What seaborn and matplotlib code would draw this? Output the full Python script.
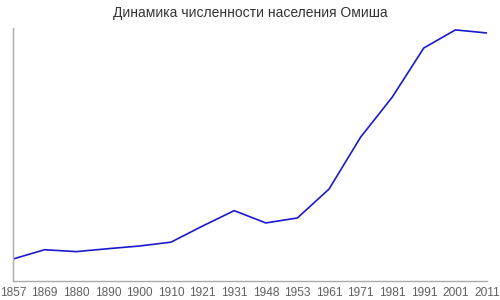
import matplotlib
matplotlib.use("Agg")
import matplotlib.pyplot as plt
import seaborn as sns
import pandas as pd

years = ["1857", "1869", "1880", "1890", "1900", "1910", "1921", "1931",
         "1948", "1953", "1961", "1971", "1981", "1991", "2001", "2011"]
population = [572, 814, 764, 840, 910, 1010, 1430, 1830,
              1510, 1640, 2390, 3740, 4780, 6060, 6530, 6450]

sns.set_theme(style="white")
plt.rcParams['font.family'] = ['Liberation Sans', 'DejaVu Sans']

df = pd.DataFrame({"pos": range(len(years)), "pop": population})

fig = plt.figure(figsize=(5, 3), dpi=100)
ax = fig.add_axes([0.026, 0.0633, 0.948, 0.8434])
sns.lineplot(data=df, x="pos", y="pop", ax=ax, color="#1a1acc", linewidth=1.2)

ax.set_xlim(0, len(years) - 1)
ax.set_ylim(0, 6580)
ax.set_xticks(range(len(years)))
ax.set_xticklabels(years, fontsize=8.6, color="#606060")
ax.set_yticks([])
ax.set_xlabel("")
ax.set_ylabel("")
ax.tick_params(axis="x", length=0, pad=4)
for s in ["top", "right"]:
    ax.spines[s].set_visible(False)
for s in ["left", "bottom"]:
    ax.spines[s].set_color("#aaaaaa")
    ax.spines[s].set_linewidth(1.0)

fig.text(0.5, 0.958, "Динамика численности населения Омиша", ha="center", va="center",
         fontsize=10, color="#333333")

fig.savefig("out.png", dpi=100)
